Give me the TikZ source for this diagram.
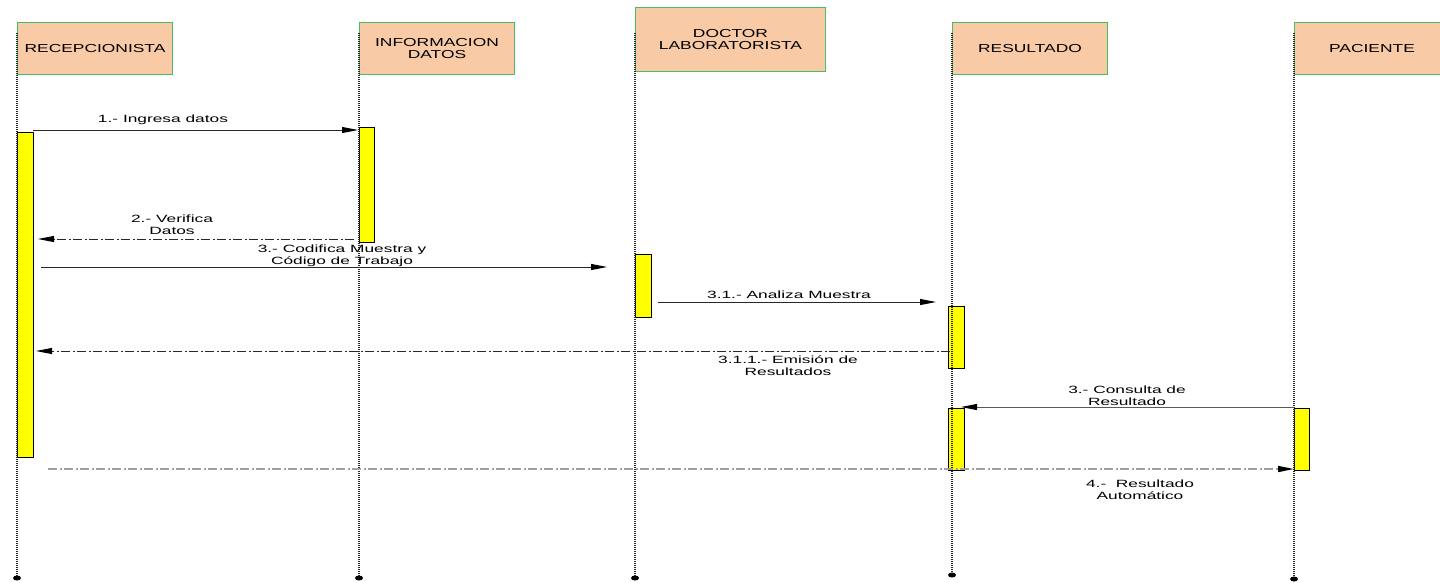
\documentclass[tikz,border=0pt]{standalone}
\usepackage{fontspec}
\setmainfont{Liberation Sans}[FakeStretch=1.65]
\newfontfamily\hdrfont{Liberation Sans}[FakeStretch=1.5]
\usetikzlibrary{arrows.meta,calc,shapes.geometric}
\definecolor{hdrfill}{RGB}{248,203,166}
\definecolor{hdrline}{RGB}{70,190,100}
\definecolor{actfill}{RGB}{255,255,0}
\definecolor{msgline}{RGB}{40,40,40}
\definecolor{lostline}{RGB}{160,160,160}

\begin{document}
\begin{tikzpicture}[x=1pt,y=-1pt,
  header/.style={draw=hdrline, line width=1pt, fill=hdrfill, anchor=north west,
    minimum width=155pt, minimum height=52pt, inner sep=0pt, align=center,
    font=\hdrfont\fontsize{11.6}{11.5}\selectfont, text=black},
  actbar/.style={draw=black, line width=1pt, fill=actfill, anchor=north west,
    inner sep=0pt, minimum width=16pt},
  lifeline/.style={line width=1.2pt, black!85, dash pattern=on 1.2pt off 0.8pt},
  enddot/.style={ellipse, fill=black, draw=none, inner sep=0pt,
    minimum width=8pt, minimum height=5pt},
  msg/.style={line width=0.9pt, msgline, -{Triangle[length=16pt,width=6pt,color=black]}},
  reply/.style={msg, dash pattern=on 9pt off 2.5pt on 2pt off 2.5pt},
  lbl/.style={font=\fontsize{10.5}{11.5}\selectfont, align=center, anchor=base,
    inner sep=0pt, text=black}]

\useasboundingbox (0,0) rectangle (1440,582);
\clip (0,0) rectangle (1440,582);

% participants
\node[header] (hR) at (17,22) {RECEPCIONISTA};
\node[header] (hI) at (359,22) {INFORMACION\\DATOS};
\node[header, minimum width=190pt, minimum height=64pt] (hD) at (635,7) {DOCTOR\\LABORATORISTA};
\node[header] (hS) at (952,22) {RESULTADO};
\node[header] (hP) at (1294,22) {PACIENTE};

% activation bars
\node[actbar, minimum height=325pt] (aR) at (17,132) {};
\node[actbar, minimum height=115pt, minimum width=15pt] (aI) at (359,127) {};
\node[actbar, minimum height=63pt] (aD) at (635,254) {};
\node[actbar, minimum height=62pt] (aS1) at (948,306) {};
\node[actbar, minimum height=62pt] (aS2) at (948,408) {};
\node[actbar, minimum height=62pt, minimum width=15pt] (aP) at (1294,408) {};

% lifeline ends
\node[enddot] (eR) at (17,578) {};
\node[enddot] (eI) at (359,578) {};
\node[enddot] (eD) at (635,578) {};
\node[enddot] (eS) at (952,575) {};
\node[enddot] (eP) at (1294,579) {};

% lifelines
\draw[lifeline] (hR.north west) ++(0,11) -- (eR);
\draw[lifeline] (hI.north west) ++(0,11) -- (eI);
\draw[lifeline] (hD.north west) ++(0,26) -- (eD);
\draw[lifeline] (hS.north west) ++(0,11) -- (eS);
\draw[lifeline] (hP.north west) ++(0,11) -- (eP);

% message end points
\coordinate (m1s) at (33,130);   \coordinate (m1e) at (358,130);
\coordinate (m2s) at (354,239);  \coordinate (m2e) at (38,239);
\coordinate (m3s) at (41,267);   \coordinate (m3e) at (607,267);
\coordinate (m4s) at (658,302);  \coordinate (m4e) at (936,302);
\coordinate (m5s) at (950,351);  \coordinate (m5e) at (36,351);
\coordinate (m6s) at (1294,407); \coordinate (m6e) at (961,407);
\coordinate (m7s) at (48,469);   \coordinate (m7e) at (1294,469);

% messages
\draw[msg] (m1s) -- (m1e);
\draw[reply] (m2s) -- (m2e);
\draw[msg] (m3s) -- (m3e);
\draw[msg] (m4s) -- (m4e);
\draw[reply] (m5s) -- (m5e);
\draw[msg, black!65] (m6s) -- (m6e);
\draw[reply, lostline, line width=1.5pt] (m7s) -- (m7e);

% message labels (anchored on the baseline of their last line)
\node[lbl] (t1) at (163,122) {1.- Ingresa datos};
\node[lbl] (t2) at (172,234) {2.- Verifica\\Datos};
\node[lbl] (t3) at (342,264) {3.- Codifica Muestra y\\Código de Trabajo};
\node[lbl] (t4) at (789,298) {3.1.- Analiza Muestra};
\node[lbl] (t5) at (788,375) {3.1.1.- Emisión de\\Resultados};
\node[lbl] (t6) at (1127,405) {3.- Consulta de\\Resultado};
\node[lbl] (t7) at (1140,499) {4.-\ \ Resultado\\Automático};
\end{tikzpicture}
\end{document}
